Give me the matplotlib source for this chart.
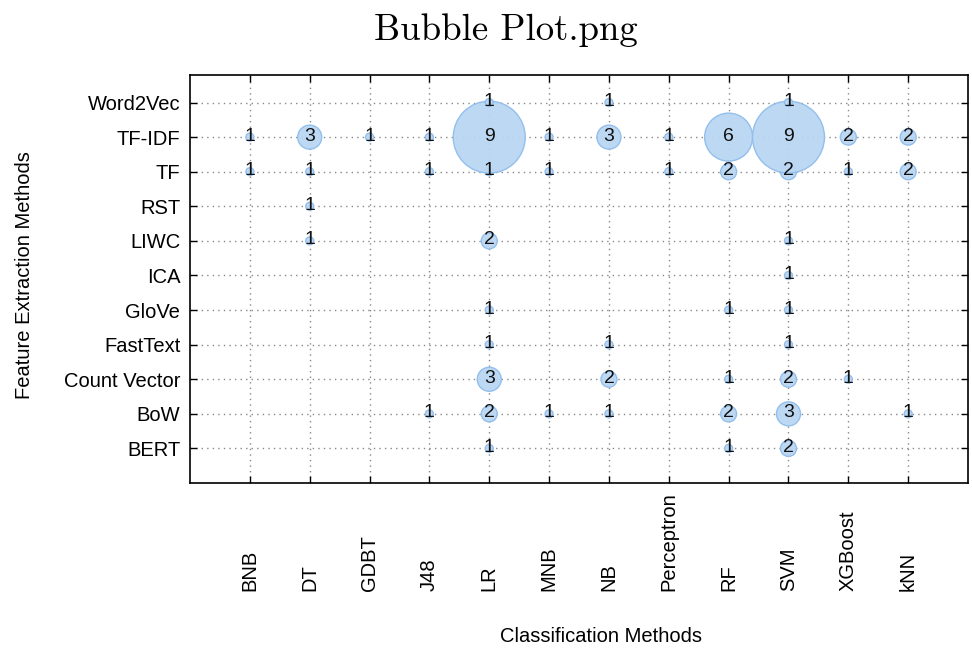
import matplotlib
matplotlib.use("Agg")
import matplotlib.pyplot as plt

plt.rcParams['font.family'] = ['Liberation Sans', 'DejaVu Sans']
plt.rcParams['axes.unicode_minus'] = False

classifiers = ["BNB", "DT", "GDBT", "J48", "LR", "MNB", "NB", "Perceptron",
               "RF", "SVM", "XGBoost", "kNN"]
features = ["BERT", "BoW", "Count Vector", "FastText", "GloVe", "ICA",
            "LIWC", "RST", "TF", "TF-IDF", "Word2Vec"]

# counts per feature method, one entry per classifier (0 = no bubble)
word2vec = [0, 0, 0, 0, 1, 0, 1, 0, 0, 1, 0, 0]
tfidf = [1, 3, 1, 1, 9, 1, 3, 1, 6, 9, 2, 2]
tf = [1, 1, 0, 1, 1, 1, 0, 1, 2, 2, 1, 2]
rst = [0, 1, 0, 0, 0, 0, 0, 0, 0, 0, 0, 0]
liwc = [0, 1, 0, 0, 2, 0, 0, 0, 0, 1, 0, 0]
ica = [0, 0, 0, 0, 0, 0, 0, 0, 0, 1, 0, 0]
glove = [0, 0, 0, 0, 1, 0, 0, 0, 1, 1, 0, 0]
fasttext = [0, 0, 0, 0, 1, 0, 1, 0, 0, 1, 0, 0]
count_vector = [0, 0, 0, 0, 3, 0, 2, 0, 1, 2, 1, 0]
bow = [0, 0, 0, 1, 2, 1, 1, 0, 2, 3, 0, 1]
bert = [0, 0, 0, 0, 1, 0, 0, 0, 1, 2, 0, 0]

rows = [bert, bow, count_vector, fasttext, glove, ica, liwc, rst, tf,
        tfidf, word2vec]

fig = plt.figure(figsize=(9.72, 6.51), dpi=100)
ax = fig.add_axes([0.1955, 0.258, 0.8004, 0.627])

xs, ys, vs = [], [], []
for j, row in enumerate(rows):
    for i, v in enumerate(row):
        if v > 0:
            xs.append(i + 1)
            ys.append(j + 1)
            vs.append(v)

sizes = [(8 * v * 0.72) ** 2 for v in vs]
ax.scatter(xs, ys, s=sizes, facecolor='#bad6f3', edgecolor='#8fbdec',
           linewidth=1, alpha=0.95, zorder=3)
for x, y, v in zip(xs, ys, vs):
    ax.text(x, y + 0.03, str(v), ha='center', va='center', fontsize=14,
            color='#111111', zorder=4)

ax.set_xlim(0, 13)
ax.set_ylim(0, 11.8)
ax.set_xticks(range(1, len(classifiers) + 1))
ax.set_xticklabels(classifiers, rotation=90, fontsize=14.5)
ax.set_yticks(range(1, len(features) + 1))
ax.set_yticklabels(features, fontsize=14.5)
for lab in ax.get_xticklabels():
    lab.set_va('bottom')
ax.tick_params(axis='x', pad=78)
ax.tick_params(axis='y', pad=7)
ax.tick_params(direction='in', top=True, right=True, length=5, width=1)
ax.grid(True, linestyle=(0, (1, 3)), color='#888888', linewidth=1)
ax.set_axisbelow(True)
for sp in ax.spines.values():
    sp.set_linewidth(1.2)

ax.set_ylabel("Feature Extraction Methods", fontsize=14.5)
ax.yaxis.set_label_coords(-0.2, 0.51)
fig.text(601 / 972, 1 - 637 / 651, "Classification Methods", ha='center',
         va='center', fontsize=14.5)
fig.suptitle("Bubble Plot.png", x=506 / 972, y=1 - 30 / 651, va='center',
             fontsize=26.5, family='cmr10')

fig.savefig("out.png", dpi=100)
